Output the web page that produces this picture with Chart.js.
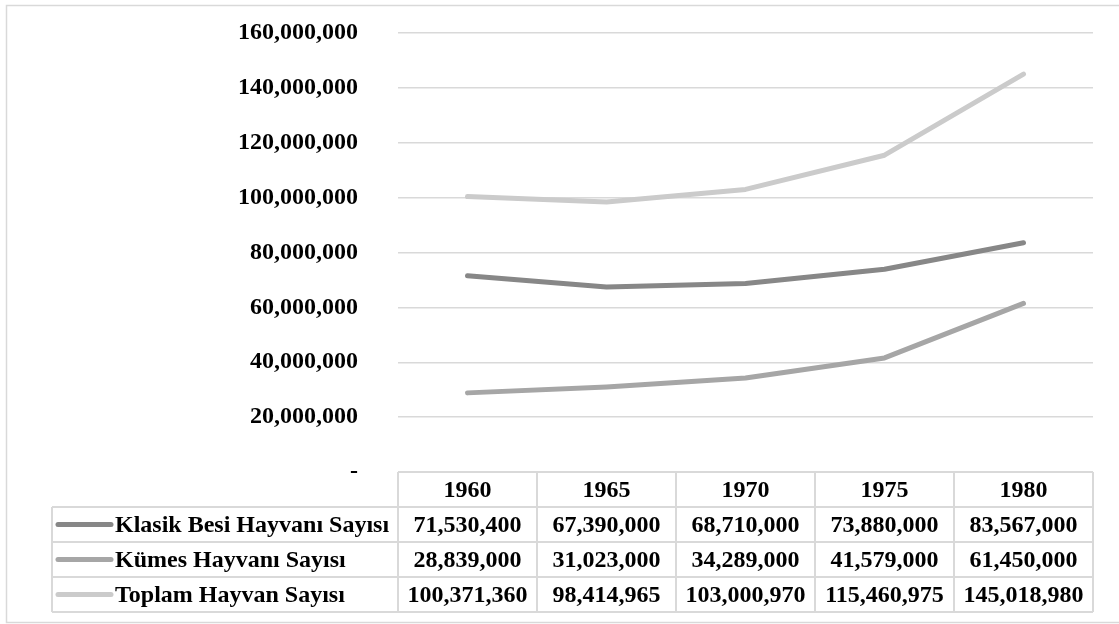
<!DOCTYPE html>
<html>
<head>
<meta charset="utf-8">
<script src="https://cdn.jsdelivr.net/npm/chart.js@4.4.0/dist/chart.umd.min.js"></script>
<style>
  html, body { margin: 0; padding: 0; background: #ffffff; }
  #wrap { position: relative; width: 1119px; height: 624px; }
</style>
</head>
<body>
<div id="wrap"><canvas id="c" width="1119" height="624"></canvas></div>
<script>
const categories = ['1960', '1965', '1970', '1975', '1980'];
const seriesNames = ['Klasik Besi Hayvanı Sayısı', 'Kümes Hayvanı Sayısı', 'Toplam Hayvan Sayısı'];
const klasik = [71530400, 67390000, 68710000, 73880000, 83567000];
const kumes = [28839000, 31023000, 34289000, 41579000, 61450000];
const toplam = [100371360, 98414965, 103000970, 115460975, 145018980];
const seriesColors = ['#878787', '#a6a6a6', '#cbcbcb'];
const yTickValues = [0, 20000000, 40000000, 60000000, 80000000, 100000000, 120000000, 140000000, 160000000];
const yTickLabels = ['-', '20,000,000', '40,000,000', '60,000,000', '80,000,000', '100,000,000', '120,000,000', '140,000,000', '160,000,000'];

const FAMILY = '"Liberation Serif", "Times New Roman", serif';
const FONT = 'bold 24px ' + FAMILY;
const GRID = '#d9d9d9';
const fmt = v => v.toLocaleString('en-US');
const allSeries = [klasik, kumes, toplam];

const tablePlugin = {
  id: 'dataTable',
  afterDraw(chart) {
    const ctx = chart.ctx;
    const ca = chart.chartArea;
    const xs = chart.scales.x;
    const rowH = 35;
    const colW = (ca.right - ca.left) / categories.length;
    const legendLeft = 52;
    const top = ca.bottom;
    ctx.save();
    ctx.strokeStyle = GRID;
    ctx.lineWidth = 1.5;
    ctx.strokeRect(6.5, 5.5, 1125, 617);

    ctx.lineWidth = 2;
    ctx.beginPath();
    ctx.moveTo(ca.left, top); ctx.lineTo(ca.right, top);
    for (let r = 1; r <= 4; r++) {
      const y = top + r * rowH;
      ctx.moveTo(legendLeft, y); ctx.lineTo(ca.right, y);
    }
    for (let i = 0; i <= categories.length; i++) {
      const x = ca.left + i * colW;
      ctx.moveTo(x, top); ctx.lineTo(x, top + 4 * rowH);
    }
    ctx.moveTo(legendLeft, top + rowH); ctx.lineTo(legendLeft, top + 4 * rowH);
    ctx.stroke();

    ctx.fillStyle = '#000000';
    ctx.font = FONT;
    ctx.textBaseline = 'middle';
    ctx.textAlign = 'center';
    categories.forEach((c, i) => {
      ctx.fillText(c, xs.getPixelForValue(i), top + rowH / 2 + 1);
    });
    allSeries.forEach((s, r) => {
      const yc = top + (r + 1) * rowH + rowH / 2 + 1;
      s.forEach((v, i) => {
        ctx.textAlign = 'center';
        ctx.fillText(fmt(v), xs.getPixelForValue(i), yc);
      });
      ctx.strokeStyle = seriesColors[r];
      ctx.lineWidth = 5;
      ctx.lineCap = 'round';
      ctx.beginPath();
      ctx.moveTo(58, yc - 1); ctx.lineTo(111, yc - 1);
      ctx.stroke();
      ctx.textAlign = 'left';
      ctx.fillText(seriesNames[r], 115, yc);
    });
    ctx.restore();
  }
};

new Chart(document.getElementById('c'), {
  type: 'line',
  data: {
    labels: categories,
    datasets: allSeries.map((s, i) => ({
      label: seriesNames[i],
      data: s,
      borderColor: seriesColors[i],
      backgroundColor: seriesColors[i],
      borderWidth: 5,
      borderCapStyle: 'round',
      borderJoinStyle: 'round',
      pointRadius: 0,
      tension: 0,
      fill: false
    }))
  },
  options: {
    responsive: false,
    animation: false,
    devicePixelRatio: 1,
    layout: { padding: { left: 0, top: 33, right: 26, bottom: 152 } },
    plugins: { legend: { display: false }, tooltip: { enabled: false } },
    scales: {
      x: { display: false, offset: true },
      y: {
        min: 0, max: 160000000,
        afterBuildTicks(scale) { scale.ticks = yTickValues.map(v => ({ value: v })); },
        afterFit(scale) { scale.width = 398; scale.paddingTop = 0; scale.paddingBottom = 0; },
        border: { display: false },
        grid: { color: GRID, lineWidth: 1.5, drawTicks: false },
        ticks: {
          padding: 40,
          color: '#000000',
          font: { family: FAMILY, size: 24, weight: 'bold' },
          callback: (v) => yTickLabels[yTickValues.indexOf(v)]
        }
      }
    }
  },
  plugins: [tablePlugin]
});
</script>
</body>
</html>
